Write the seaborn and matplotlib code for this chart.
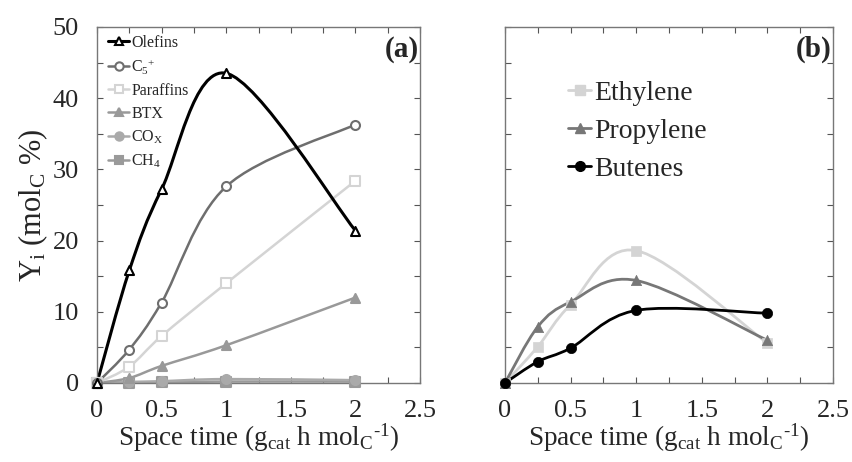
import numpy as np
import pandas as pd
import matplotlib
matplotlib.use('Agg')
import matplotlib.pyplot as plt
import seaborn as sns
from matplotlib.path import Path
from matplotlib.patches import PathPatch
from matplotlib.lines import Line2D
from matplotlib.ticker import MultipleLocator

# space time (g_cat h mol_C^-1)
space_time = [0, 0.25, 0.5, 1, 2]

# panel (a): yields (mol_C %)
olefins = [0, 15.8, 27.2, 43.5, 21.4]
c5plus = [0, 4.7, 11.3, 27.6, 36.3]
paraffins = [0, 2.3, 6.6, 14.0, 28.4]
btx = [0, 0.7, 2.4, 5.3, 12.0]
cox = [0, 0.15, 0.25, 0.55, 0.4]
ch4 = [0, 0.05, 0.1, 0.2, 0.2]

# panel (b): light olefins (mol_C %)
ethylene = [0, 5.1, 11.0, 18.6, 5.6]
propylene = [0, 7.9, 11.4, 14.4, 6.0]
butenes = [0, 3.0, 4.9, 10.2, 9.8]

sns.set_style('white')
plt.rcParams['font.family'] = ['Liberation Serif', 'DejaVu Serif']
plt.rcParams['mathtext.fontset'] = 'custom'
plt.rcParams['mathtext.rm'] = 'Liberation Serif'
plt.rcParams['mathtext.it'] = 'Liberation Serif:italic'


def smooth_line(ax, x, y, color, lw):
    # excel-like smoothed line through the points (bezier segments)
    pts = np.column_stack([x, y]).astype(float)
    n = len(pts)
    verts = [pts[0]]
    codes = [Path.MOVETO]
    for i in range(n - 1):
        p0 = pts[max(i - 1, 0)]
        p1 = pts[i]
        p2 = pts[i + 1]
        p3 = pts[min(i + 2, n - 1)]
        c1 = p1 + (p2 - p0) / 6
        c2 = p2 - (p3 - p1) / 6
        verts += [c1, c2, p2]
        codes += [Path.CURVE4] * 3
    ax.add_patch(PathPatch(Path(verts, codes), facecolor='none', edgecolor=color,
                           lw=lw, zorder=2, capstyle='round', joinstyle='round'))


def style_axes(ax, ylabels=True):
    ax.set_xlim(0, 2.5)
    ax.set_ylim(0, 50)
    ax.xaxis.set_major_locator(MultipleLocator(0.5))
    ax.xaxis.set_minor_locator(MultipleLocator(0.25))
    ax.yaxis.set_major_locator(MultipleLocator(10))
    ax.yaxis.set_minor_locator(MultipleLocator(5))
    ax.tick_params(which='both', direction='in', top=True, right=True, bottom=True, left=True,
                   length=4, width=0.8, color='#555555', labelsize=19)
    ax.tick_params(axis='x', pad=12)
    ax.tick_params(axis='y', pad=13)
    ax.set_xticks([0, 0.5, 1, 1.5, 2, 2.5])
    ax.set_xticklabels(['0', '0.5', '1', '1.5', '2', '2.5'])
    if not ylabels:
        ax.set_yticklabels([])
    for s in ax.spines.values():
        s.set_color('#777777')
        s.set_linewidth(1.0)
    ax.set_xlabel('Space time (g$_\\mathregular{cat}$ h mol$_\\mathregular{C}$$^\\mathregular{\u2010 1}$)',
                  fontsize=19.5, labelpad=0)


fig = plt.figure(figsize=(8.53, 4.62), dpi=100)
ax1 = fig.add_axes([0.1137, 0.171, 0.3787, 0.7706])
ax2 = fig.add_axes([0.592, 0.171, 0.3846, 0.7706])

x = np.array(space_time)

series_a = [
    ('Olefins', olefins, '#000000', '^', 'white', 2.2),
    ('C$_\\mathregular{5}$$^\\mathregular{+}$', c5plus, '#6e6e6e', 'o', 'white', 1.8),
    ('Paraffins', paraffins, '#d4d4d4', 's', 'white', 1.8),
    ('BTX', btx, '#999999', '^', '#999999', 1.8),
    ('CO$_\\mathregular{X}$', cox, '#aaaaaa', 'o', '#aaaaaa', 1.8),
    ('CH$_\\mathregular{4}$', ch4, '#9a9a9a', 's', '#9a9a9a', 1.8),
]

handles_a = []
for name, vals, col, mk, fc, lw in reversed(series_a):
    smooth_line(ax1, x, vals, col, lw)
    df = pd.DataFrame({'x': x, 'y': vals})
    sns.scatterplot(data=df, x='x', y='y', ax=ax1, marker=mk, s=42, color=fc,
                    edgecolor=col, linewidth=1.5, zorder=3, clip_on=False, legend=False)
for name, vals, col, mk, fc, lw in series_a:
    handles_a.append(Line2D([], [], color=col, lw=lw, marker=mk, markersize=6,
                            markerfacecolor=fc, markeredgecolor=col, markeredgewidth=1.5,
                            label=name))

ax1.legend(handles=handles_a, loc='upper left', bbox_to_anchor=(0.0, 1.01), frameon=False,
           fontsize=11.5, handlelength=1.3, handletextpad=0.15, labelspacing=0.42,
           borderaxespad=0.3)
ax1.text(0.995, 0.975, '(a)', transform=ax1.transAxes, ha='right', va='top',
         fontsize=21, fontweight='bold')
style_axes(ax1)
ax1.set_ylabel('Y$_\\mathregular{i}$ (mol$_\\mathregular{C}$ %)', fontsize=22, labelpad=2)

series_b = [
    ('Ethylene', ethylene, '#d4d4d4', 's'),
    ('Propylene', propylene, '#777777', '^'),
    ('Butenes', butenes, '#000000', 'o'),
]
handles_b = []
for name, vals, col, mk in series_b:
    smooth_line(ax2, x, vals, col, 2.0)
    df = pd.DataFrame({'x': x, 'y': vals})
    sns.scatterplot(data=df, x='x', y='y', ax=ax2, marker=mk, s=55, color=col,
                    edgecolor=col, linewidth=0.5, zorder=3, clip_on=False, legend=False)
    handles_b.append(Line2D([], [], color=col, lw=2.0, marker=mk, markersize=7,
                            markerfacecolor=col, markeredgecolor=col, label=name))

ax2.legend(handles=handles_b, loc='upper left', bbox_to_anchor=(0.115, 0.92), frameon=False,
           fontsize=20, handlelength=0.85, handletextpad=0.1, labelspacing=0.45)
ax2.text(0.995, 0.975, '(b)', transform=ax2.transAxes, ha='right', va='top',
         fontsize=21, fontweight='bold')
style_axes(ax2, ylabels=False)
ax2.set_ylabel('')

fig.savefig('out.png', dpi=100)
